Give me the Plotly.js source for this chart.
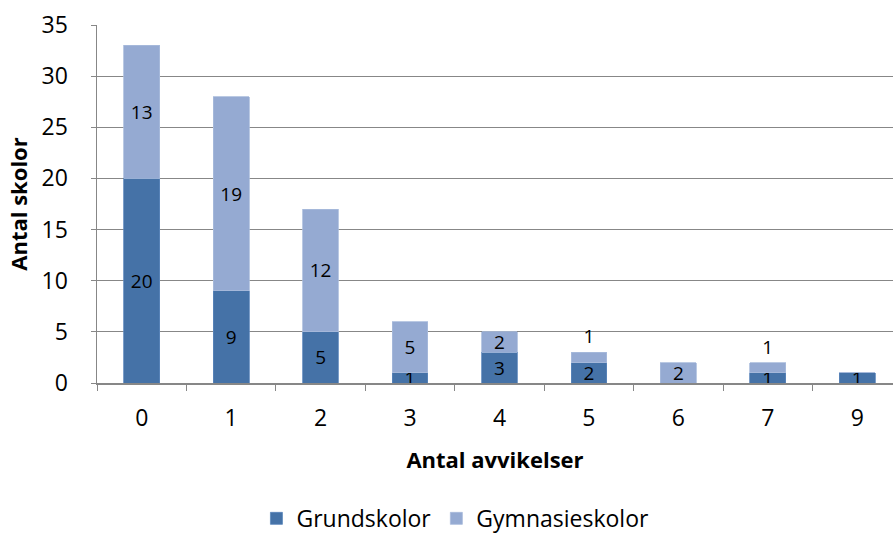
<!DOCTYPE html>
<html>
<head>
<meta charset="utf-8">
<script src="https://cdn.plot.ly/plotly-3.0.1.min.js"></script>
<style>html,body{margin:0;padding:0;background:#fff;}#chart{width:893px;height:540px;}</style>
</head>
<body>
<div id="chart"></div>
<script>
const categories = ["0","1","2","3","4","5","6","7","9"];
const grundskolor = [20, 9, 5, 1, 3, 2, 0, 1, 1];
const gymnasieskolor = [13, 19, 12, 5, 2, 1, 2, 1, 0];
const yTicks = [0, 5, 10, 15, 20, 25, 30, 35];

const labelOf = v => v === 0 ? "" : String(v);
const font = "'Open Sans', sans-serif";
// small top segments whose label sits just above the bar (as in the reference)
const gymPos = categories.map(c => (c === "7" || c === "5") ? "outside" : "inside");

const traces = [
  {
    type: "bar", name: "Grundskolor", x: categories, y: grundskolor,
    text: grundskolor.map(labelOf), textposition: "inside", insidetextanchor: "middle", textangle: 0,
    textfont: {family: font, size: 19, color: "#000"},
    marker: {color: "#4572A7", line: {color: "#5b86bb", width: 0.8}},
    hoverinfo: "skip", cliponaxis: false
  },
  {
    type: "bar", name: "Gymnasieskolor", x: categories, y: gymnasieskolor,
    text: gymnasieskolor.map(labelOf), textposition: gymPos, insidetextanchor: "middle", textangle: 0,
    textfont: {family: font, size: 19, color: "#000"},
    outsidetextfont: {family: font, size: 19, color: "#000"},
    marker: {color: "#95AAD2", line: {color: "#a9bbdc", width: 0.8}},
    hoverinfo: "skip", cliponaxis: false
  }
];

const layout = {
  width: 893, height: 540,
  margin: {l: 97, r: 0, t: 25, b: 157},
  paper_bgcolor: "#fff", plot_bgcolor: "#fff",
  barmode: "stack", bargap: 0.6,
  uniformtext: {minsize: 19, mode: "show"},
  font: {family: font, color: "#000"},
  showlegend: true,
  legend: {
    orientation: "h", xref: "container", yref: "container",
    x: 0.51, xanchor: "center", y: 0.04, yanchor: "middle",
    font: {family: font, size: 23, color: "#000"}, itemwidth: 30, traceorder: "normal"
  },
  xaxis: {
    type: "category", range: [-0.5, 8.4],
    tickson: "boundaries", ticks: "outside", ticklen: 6, tickcolor: "#878787",
    showline: true, linecolor: "#878787", linewidth: 1.5,
    showgrid: false, zeroline: false,
    tickfont: {family: font, size: 23, color: "#000"},
    ticklabelstandoff: 14,
    title: {text: "<b>Antal avvikelser</b>", font: {family: font, size: 22, color: "#000"}, standoff: 20},
    automargin: false
  },
  yaxis: {
    range: [0, 35], tickvals: yTicks, ticktext: yTicks.map(String),
    ticks: "outside", ticklen: 5, tickcolor: "#878787",
    showline: true, linecolor: "#878787", linewidth: 1.5,
    showgrid: true, gridcolor: "#878787", gridwidth: 1.2, zeroline: false,
    tickfont: {family: font, size: 23, color: "#000"},
    ticklabelstandoff: 18,
    title: {text: "<b>Antal skolor</b>", font: {family: font, size: 22, color: "#000"}, standoff: 8},
    automargin: false
  }
};

Plotly.newPlot("chart", traces, layout, {displayModeBar: false, staticPlot: true});
</script>
</body>
</html>
